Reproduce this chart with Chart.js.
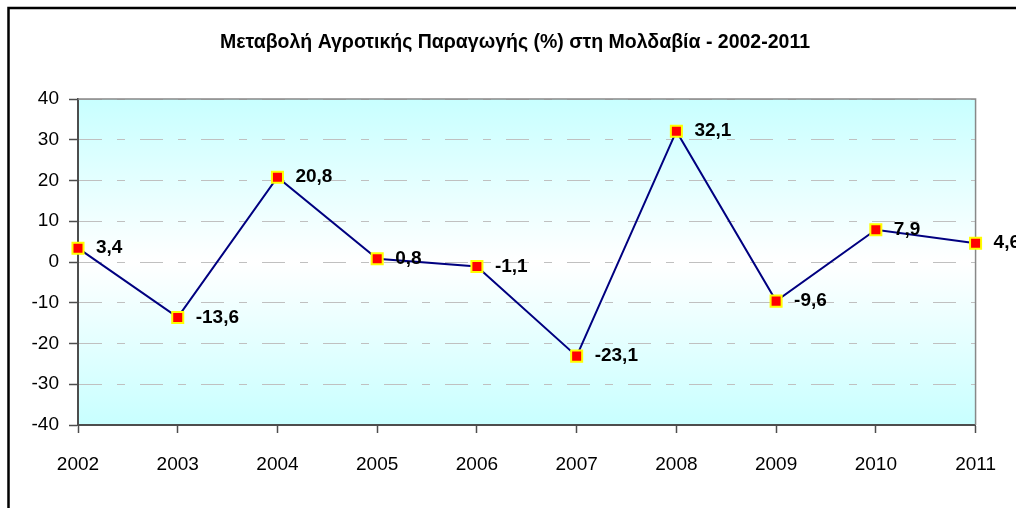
<!DOCTYPE html>
<html>
<head>
<meta charset="utf-8">
<script src="https://cdn.jsdelivr.net/npm/chart.js@4/dist/chart.umd.min.js"></script>
<style>
    html, body { margin: 0; padding: 0; background: #fff; }
    #wrap { position: relative; width: 1016px; height: 508px; }
</style>
</head>
<body>
<div id="wrap"><canvas id="myChart"></canvas></div>
<script>
// data
const years = ['2002', '2003', '2004', '2005', '2006', '2007', '2008', '2009', '2010', '2011'];
const change = [3.4, -13.6, 20.8, 0.8, -1.1, -23.1, 32.1, -9.6, 7.9, 4.6];   // μεταβολή %
const yTicks = [-40, -30, -20, -10, 0, 10, 20, 30, 40];
const titleText = 'Μεταβολή Αγροτικής Παραγωγής (%) στη Μολδαβία - 2002-2011';

const fontFamily = '"Liberation Sans", Arial, sans-serif';

// background gradient, outer frame and plot border
const framePlugin = {
    id: 'frame',
    beforeDraw: (chart) => {
        const ctx = chart.ctx;
        const a = chart.chartArea;
        ctx.save();
        ctx.fillStyle = '#fff';
        ctx.fillRect(0, 0, chart.width, chart.height);
        // outer black frame (runs off right and bottom)
        ctx.strokeStyle = '#000';
        ctx.lineWidth = 2.5;
        ctx.beginPath();
        ctx.moveTo(8.5, chart.height + 5);
        ctx.lineTo(8.5, 8);
        ctx.lineTo(chart.width + 5, 8);
        ctx.stroke();
        // plot area gradient
        const g = ctx.createLinearGradient(0, a.top, 0, a.bottom);
        g.addColorStop(0, '#c8ffff');
        g.addColorStop(0.5, '#ffffff');
        g.addColorStop(1, '#c8ffff');
        ctx.fillStyle = g;
        ctx.fillRect(a.left, a.top, a.right - a.left, a.bottom - a.top);
        ctx.restore();
    },
    beforeDatasetsDraw: (chart) => {
        const ctx = chart.ctx;
        const a = chart.chartArea;
        ctx.save();
        ctx.strokeStyle = '#888';
        ctx.lineWidth = 1.5;
        ctx.beginPath();
        ctx.moveTo(a.left, a.top);
        ctx.lineTo(a.right, a.top);
        ctx.lineTo(a.right, a.bottom);
        ctx.stroke();
        ctx.restore();
    }
};

// value labels to the right of each point
const valueLabels = {
    id: 'valueLabels',
    afterDatasetsDraw: (chart) => {
        const ctx = chart.ctx;
        const meta = chart.getDatasetMeta(0);
        ctx.save();
        ctx.font = 'bold 19px ' + fontFamily;
        ctx.fillStyle = '#000';
        ctx.textAlign = 'left';
        ctx.textBaseline = 'middle';
        meta.data.forEach((pt, i) => {
            ctx.fillText(change[i].toFixed(1).replace('.', ','), pt.x + 18, pt.y);
        });
        ctx.restore();
    }
};

new Chart(document.getElementById('myChart').getContext('2d'), {
    type: 'line',
    plugins: [framePlugin, valueLabels],
    data: {
        labels: years,
        datasets: [{
            label: 'Μεταβολή',
            data: change,
            borderColor: '#000080',
            borderWidth: 2,
            tension: 0,
            pointStyle: 'rect',
            pointRadius: 7.8,
            pointBorderWidth: 2,
            pointBackgroundColor: '#ff0000',
            pointBorderColor: '#ffff00',
            clip: false
        }]
    },
    options: {
        responsive: true,
        maintainAspectRatio: false,
        animation: false,
        layout: {
            // title centres on the frame (x 14..1016) like the original
            padding: { left: 14, right: 0, top: 0, bottom: 0 }
        },
        scales: {
            x: {
                offset: false,
                grid: {
                    drawOnChartArea: false,
                    drawTicks: true,
                    tickLength: 8,
                    tickColor: '#4d4d4d',
                    tickWidth: 1.5
                },
                border: { color: '#4d4d4d', width: 2 },
                ticks: {
                    color: '#000',
                    padding: 20,
                    maxRotation: 0,
                    font: { family: fontFamily, size: 19 }
                },
                afterFit: (scale) => { scale.height = 83; }
            },
            y: {
                min: yTicks[0],
                max: yTicks[yTicks.length - 1],
                afterBuildTicks: (scale) => {
                    scale.ticks = yTicks.map(v => ({ value: v }));
                },
                grid: {
                    color: '#c0c0c0',
                    lineWidth: 1,
                    drawTicks: true,
                    tickLength: 9,
                    tickColor: '#4d4d4d',
                    tickWidth: 1.5,
                    tickBorderDash: []
                },
                border: { color: '#4d4d4d', width: 2, dash: [23, 15, 8, 15] },
                ticks: {
                    color: '#000',
                    padding: 10,
                    font: { family: fontFamily, size: 19 }
                },
                afterFit: (scale) => { scale.width = 64; }
            },
            // empty right-hand axis, only reserves the space right of the plot
            yRight: {
                position: 'right',
                min: yTicks[0],
                max: yTicks[yTicks.length - 1],
                grid: { display: false },
                border: { display: false },
                ticks: { display: false },
                afterFit: (scale) => { scale.width = 37; }
            }
        },
        plugins: {
            legend: { display: false },
            tooltip: { enabled: false },
            title: {
                display: true,
                text: titleText,
                color: '#000',
                font: { family: fontFamily, size: 19.5, weight: 'bold' },
                padding: { top: 31.3, bottom: 44.3 }
            }
        }
    }
});
</script>
</body>
</html>
